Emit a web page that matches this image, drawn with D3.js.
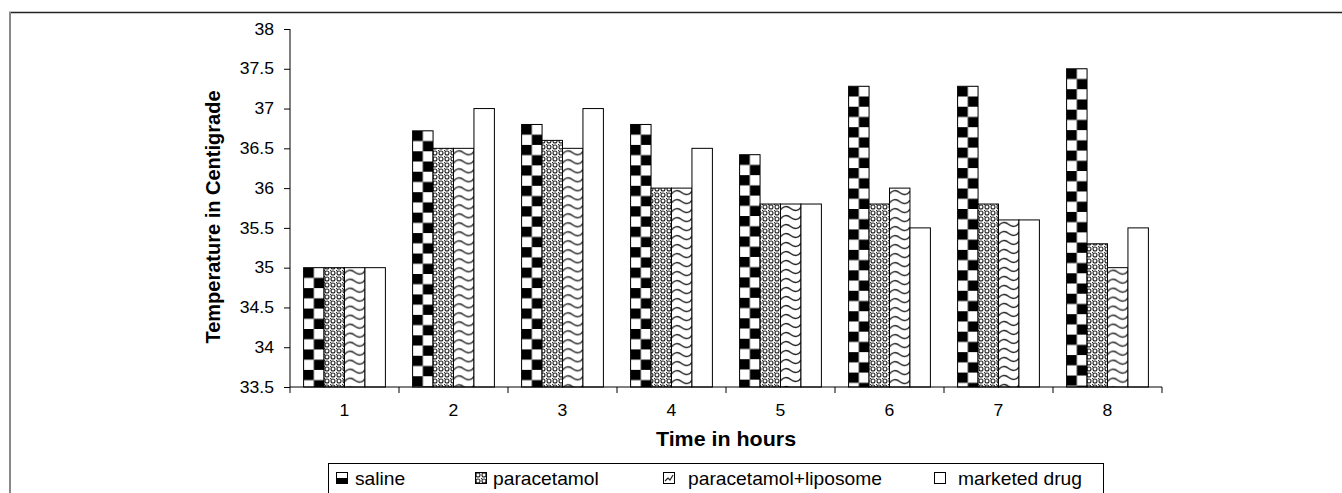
<!DOCTYPE html>
<html><head><meta charset="utf-8">
<script src="https://cdn.jsdelivr.net/npm/d3@7"></script>
<style>body{margin:0;background:#fff}svg{display:block;font-family:"Liberation Sans",Arial,sans-serif}</style>
</head><body>
<svg id="c" width="1342" height="493"></svg>
<script>
const categories = ["1","2","3","4","5","6","7","8"];
const seriesNames = ["saline","paracetamol","paracetamol+liposome","marketed drug"];
const saline = [35, 36.72, 36.8, 36.8, 36.42, 37.28, 37.28, 37.5];
const paracetamol = [35, 36.5, 36.6, 36.0, 35.8, 35.8, 35.8, 35.3];
const liposome = [35, 36.5, 36.5, 36.0, 35.8, 36.0, 35.6, 35.0];
const marketed = [35, 37.0, 37.0, 36.5, 35.8, 35.5, 35.6, 35.5];
const yTicks = [33.5,34,34.5,35,35.5,36,36.5,37,37.5,38];
const seriesValues = [saline, paracetamol, liposome, marketed];

(function(){
const SX = 1.1;
const svg = d3.select("#c");
const defs = svg.append("defs");

const dots = defs.append("pattern").attr("id","p1").attr("patternUnits","userSpaceOnUse")
  .attr("width",6).attr("height",6);
dots.append("rect").attr("width",6).attr("height",6).attr("fill","#fff");
dots.append("circle").attr("cx",3).attr("cy",3).attr("r",2).attr("fill","none").attr("stroke","#222").attr("stroke-width",1.1);
dots.append("rect").attr("x",0).attr("y",0).attr("width",1.2).attr("height",1.2).attr("fill","#333");

const fills = [null,"url(#p1)",null,"#fff"];

const pLeft = 290, pRight = 1162, pTop = 29, pBottom = 387;
const x0 = d3.scaleBand().domain(categories).range([pLeft,pRight]).paddingInner(0).paddingOuter(0);
const bw = x0.bandwidth();
const groupW = bw / (4 + 1.33) * 4;
const x1 = d3.scaleBand().domain(d3.range(4)).range([(bw-groupW)/2,(bw+groupW)/2]);
const y = d3.scaleLinear().domain([33.5,38]).range([pBottom,pTop]);

// outer frame
svg.append("line").attr("x1",9).attr("x2",1342).attr("y1",12.5).attr("y2",12.5).attr("stroke","#222").attr("stroke-width",1.5);
svg.append("line").attr("x1",10).attr("x2",10).attr("y1",12).attr("y2",493).attr("stroke","#888").attr("stroke-width",2);

// bars
const g = svg.append("g");
categories.forEach((c,i)=>{
  seriesValues.forEach((vals,s)=>{
    const bx = x0(c) + x1(s), by = y(vals[i]);
    const w = x1.bandwidth();
    let fill = fills[s];
    if (s===0) {
      const id = "chk"+i, cs = w/2;
      const p = defs.append("pattern").attr("id",id).attr("patternUnits","userSpaceOnUse")
        .attr("width",2*cs).attr("height",2*cs).attr("x",bx).attr("y",by);
      p.append("rect").attr("width",2*cs).attr("height",2*cs).attr("fill","#fff");
      p.append("rect").attr("width",cs).attr("height",cs).attr("fill","#000");
      p.append("rect").attr("x",cs).attr("y",cs).attr("width",cs).attr("height",cs).attr("fill","#000");
      fill = "url(#"+id+")";
    } else if (s===2) {
      const id = "wv"+i, h = 9;
      const p = defs.append("pattern").attr("id",id).attr("patternUnits","userSpaceOnUse")
        .attr("width",w).attr("height",h).attr("x",bx).attr("y",by);
      p.append("rect").attr("width",w).attr("height",h).attr("fill","#fff");
      p.append("path").attr("d",`M0,6 C${w*0.12},2 ${w*0.32},1.5 ${w*0.5},4.5 C${w*0.68},7.5 ${w*0.88},7 ${w},3`)
        .attr("fill","none").attr("stroke","#222").attr("stroke-width",1.4);
      fill = "url(#"+id+")";
    }
    g.append("rect").attr("x",bx).attr("y",by).attr("width",w).attr("height",pBottom-by)
      .attr("fill",fill).attr("stroke","#000").attr("stroke-width",1);
  });
});

// axes
const yAxis = d3.axisLeft(y).tickValues(yTicks).tickSize(6).tickFormat(d=>String(d));
const ya = svg.append("g").attr("transform",`translate(${pLeft},0)`).call(yAxis);
ya.selectAll("path,line").attr("stroke","#000");
ya.select(".domain").attr("d",`M0,${pTop}V${pBottom}`);
ya.selectAll("text").attr("font-size",16).attr("font-family","Liberation Sans, Arial").attr("fill","#000")
  .attr("x",-16/SX).attr("transform",`scale(${SX},1)`);

const xa = svg.append("g").attr("transform",`translate(0,${pBottom})`).call(d3.axisBottom(x0).tickSize(0).tickPadding(18));
xa.selectAll("path").attr("stroke","#000").attr("d",`M${pLeft},0H${pRight}`);
xa.selectAll("text").attr("font-size",16).attr("font-family","Liberation Sans, Arial").attr("fill","#000")
  .attr("transform",`scale(${SX},1)`);
const bounds = [pLeft].concat(categories.map(c=>x0(c)+bw));
xa.selectAll(".bnd").data(bounds).enter().append("line").attr("x1",d=>d).attr("x2",d=>d).attr("y1",0).attr("y2",6).attr("stroke","#000");

// titles
svg.append("text").attr("transform",`translate(${(pLeft+pRight)/2},446) scale(${SX},1)`).attr("text-anchor","middle")
  .attr("font-weight","bold").attr("font-size",19.5).text("Time in hours");
svg.append("text").attr("transform",`translate(220,217) rotate(-90)`).attr("text-anchor","middle")
  .attr("font-weight","bold").attr("font-size",20).text("Temperature in Centigrade");

// legend
svg.append("rect").attr("x",328.5).attr("y",463.5).attr("width",775).attr("height",40).attr("fill","#fff").attr("stroke","#000");
const legX = [336, 475, 663, 934];
const legTX = [355, 493, 688, 958];
seriesNames.forEach((n,i)=>{
  const lg = svg.append("g").attr("transform",`translate(${legX[i]},472)`);
  if (i===0) {
    lg.append("rect").attr("x",0.5).attr("y",0.5).attr("width",11).attr("height",11).attr("fill","#fff").attr("stroke","#000");
    lg.append("rect").attr("x",0.5).attr("y",6).attr("width",11).attr("height",5.5).attr("fill","#000");
  } else if (i===2) {
    lg.append("rect").attr("x",0.5).attr("y",0.5).attr("width",11).attr("height",11).attr("fill","#fff").attr("stroke","#000");
    lg.append("path").attr("d","M2,9 L5,6 L7,8 L10,3").attr("fill","none").attr("stroke","#222").attr("stroke-width",1.2);
  } else {
    lg.append("rect").attr("x",0.5).attr("y",0.5).attr("width",11).attr("height",11).attr("fill",fills[i]).attr("stroke","#000");
  }
  svg.append("text").attr("transform",`translate(${legTX[i]},485) scale(${SX},1)`).attr("font-size",17.5).text(n);
});
})();
</script>
</body></html>
